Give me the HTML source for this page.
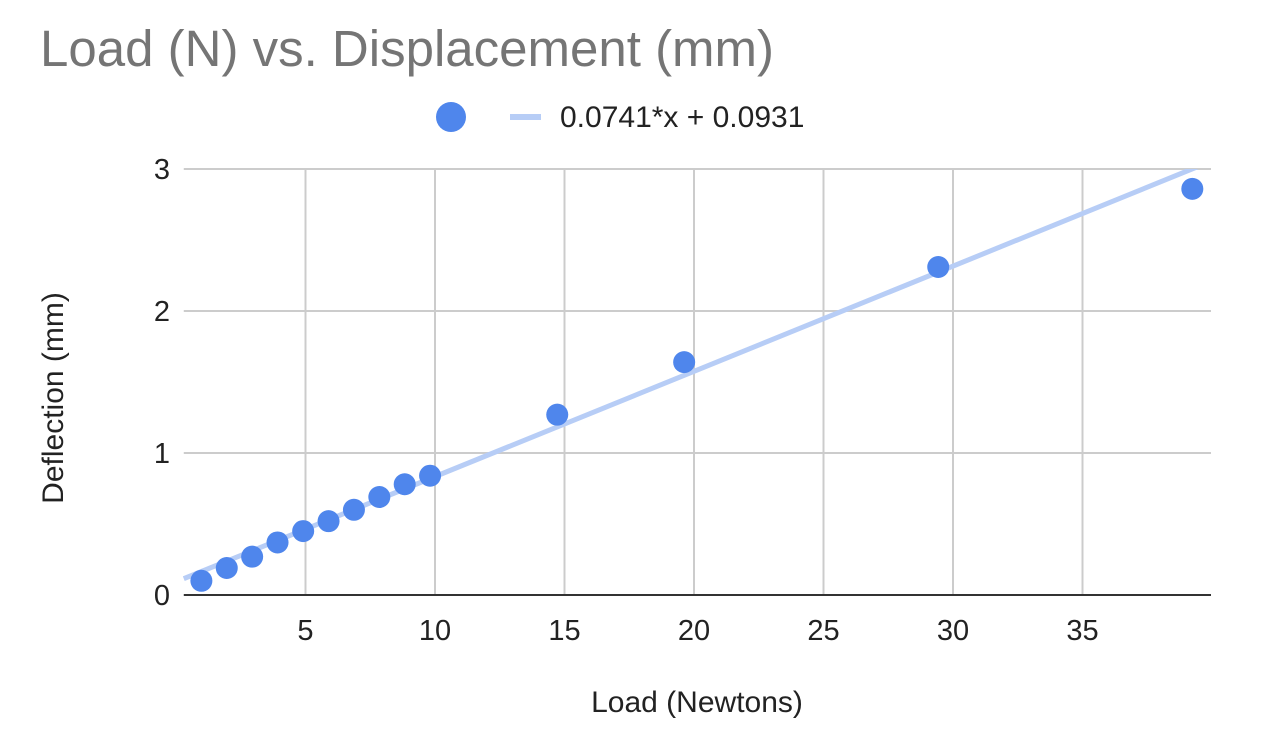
<!DOCTYPE html>
<html><head><meta charset="utf-8"><style>
body{margin:0;background:#fff;width:1270px;height:732px;overflow:hidden;font-family:"Liberation Sans",Arial,sans-serif}
</style></head><body>
<svg width="1270" height="732">
<defs><clipPath id="pa"><rect x="183" y="169" width="1030" height="430"/></clipPath></defs>
<text x="40" y="66" font-size="51" fill="#757575">Load (N) vs. Displacement (mm)</text>
<g>
<circle cx="451" cy="117" r="15" fill="#4f86ec"/>
<line x1="510" y1="117" x2="541" y2="117" stroke="#b7cdf6" stroke-width="6"/>
<text x="560" y="127" font-size="30" fill="#222">0.0741*x + 0.0931</text>
</g>
<g id="grid"></g><g id="marks"></g>
<text transform="translate(63,398) rotate(-90)" text-anchor="middle" font-size="30" fill="#222">Deflection (mm)</text>
<text x="697" y="712" text-anchor="middle" font-size="30" fill="#222">Load (Newtons)</text>
</svg>
<script>
const loads=[0.98,1.96,2.94,3.92,4.91,5.89,6.87,7.85,8.83,9.81,14.72,19.62,29.43,39.24];
const deflections=[0.10,0.19,0.27,0.37,0.45,0.52,0.60,0.69,0.78,0.84,1.27,1.64,2.31,2.86];
const xTicks=[5,10,15,20,25,30,35];
const yTicks=[0,1,2,3];
const slope=0.0741, intercept=0.0931;
const xMin=0.3,xMax=39.85;
const X=v=>176+v*25.9;
const Y=v=>595-v*142;
const ns="http://www.w3.org/2000/svg";
const grid=document.getElementById('grid'),marks=document.getElementById('marks');
function mk(tag,attrs,parent){const e=document.createElementNS(ns,tag);for(const k in attrs)e.setAttribute(k,attrs[k]);parent.appendChild(e);return e;}
xTicks.forEach(t=>{
 const l=mk('line',{x1:X(t),x2:X(t),y1:Y(3),y2:Y(0),stroke:'#cccccc','stroke-width':2},grid);
 
 
 const tx=mk('text',{x:X(t),y:640,'text-anchor':'middle','font-size':29,fill:'#222'},grid);tx.textContent=t;
 
 
});
yTicks.forEach(t=>{
 const l=mk('line',{x1:X(xMin),x2:1211,y1:Y(t),y2:Y(t),stroke:t===0?'#333':'#cccccc','stroke-width':2},grid);
 
 
 const tx=mk('text',{x:170,y:Y(t)+10,'text-anchor':'end','font-size':29,fill:'#222'},grid);tx.textContent=t;
 
 
});
const tl=mk('line',{x1:X(xMin),y1:Y(slope*xMin+intercept),x2:X(xMax),y2:Y(slope*xMax+intercept),stroke:'#b7cdf6','stroke-width':5,'clip-path':'url(#pa)'},marks);


loads.forEach((v,i)=>{
 const c=mk('circle',{cx:X(v),cy:Y(deflections[i]),r:11,fill:'#4f86ec'},marks);
 
 
});
</script>
</body></html>
